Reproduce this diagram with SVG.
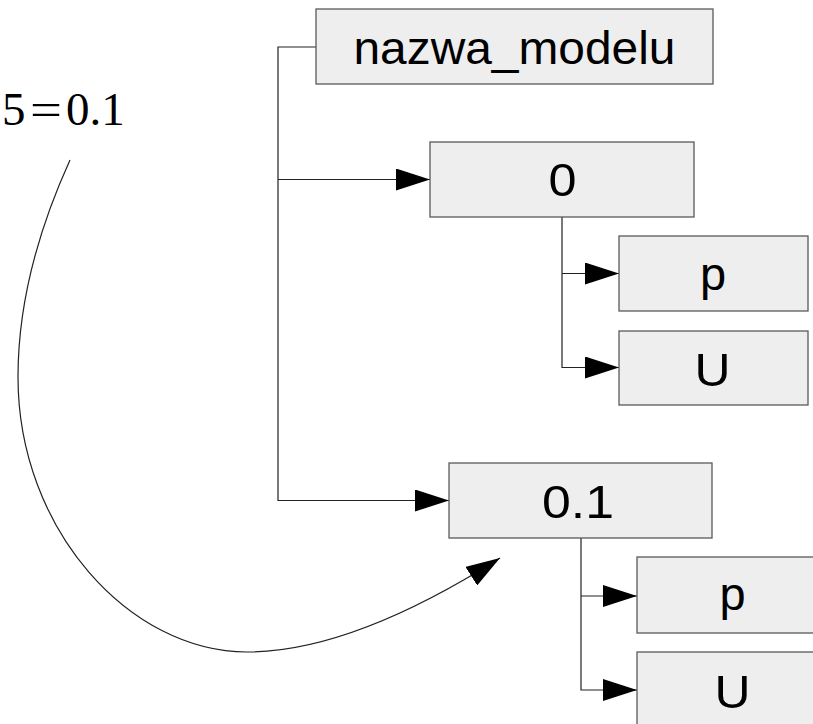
<svg xmlns="http://www.w3.org/2000/svg" width="813" height="724" viewBox="0 0 813 724">
  <style>
    .box { fill: #eeeeee; stroke: #5a5a5a; stroke-width: 1.3; }
    .lbl { font-family: "Liberation Sans", Arial, sans-serif; font-size: 47px; fill: #000; text-anchor: middle; }
    .wire { fill: none; stroke: #222; stroke-width: 1.2; }
    .math { font-family: "Liberation Serif", "Times New Roman", serif; font-size: 47px; fill: #000; }
  </style>
  <defs>
    <marker id="arrow" markerUnits="userSpaceOnUse" markerWidth="34" markerHeight="22" refX="34" refY="11" orient="auto">
      <path d="M0,0 L34,11 L0,22 Z" fill="#000"/>
    </marker>
  </defs>

  <rect width="813" height="724" fill="#ffffff"/>

  <!-- connectors -->
  <g id="connectors">
    <path class="wire" d="M316,47 H278 V500.5 H449" marker-end="url(#arrow)"/>
    <path class="wire" d="M278,179.5 H430" marker-end="url(#arrow)"/>
    <path class="wire" d="M562,217 V367.5 H619" marker-end="url(#arrow)"/>
    <path class="wire" d="M562,273.5 H619" marker-end="url(#arrow)"/>
    <path class="wire" d="M581,538 V690 H637" marker-end="url(#arrow)"/>
    <path class="wire" d="M581,596 H637" marker-end="url(#arrow)"/>
    <path class="wire" d="M70,160 C45,215 18,290 18,377 C18,530 130,652 247,652 C340,652 440,596 500,558" marker-end="url(#arrow)"/>
  </g>

  <!-- formula label -->
  <g id="formula">
    <text class="math" y="125"><tspan x="2">5</tspan><tspan x="30" textLength="32" lengthAdjust="spacingAndGlyphs">=</tspan><tspan x="66">0.1</tspan></text>
  </g>

  <g id="node-root">
    <rect class="box" x="316" y="9" width="397" height="75"/>
    <text class="lbl" x="514.5" y="63.5" font-size="43" textLength="322" lengthAdjust="spacingAndGlyphs">nazwa_modelu</text>
  </g>

  <g id="node-0">
    <rect class="box" x="430" y="142" width="264" height="75"/>
    <text class="lbl" x="562.5" y="195.5" textLength="28" lengthAdjust="spacingAndGlyphs">0</text>
  </g>

  <g id="node-0-p">
    <rect class="box" x="619" y="236" width="189" height="75"/>
    <text class="lbl" x="713" y="290">p</text>
  </g>

  <g id="node-0-U">
    <rect class="box" x="619" y="331" width="189" height="74"/>
    <text class="lbl" x="712.5" y="385.5" textLength="36" lengthAdjust="spacingAndGlyphs">U</text>
  </g>

  <g id="node-01">
    <rect class="box" x="449" y="463" width="263" height="75"/>
    <text class="lbl" x="578" y="518" textLength="72" lengthAdjust="spacingAndGlyphs">0.1</text>
  </g>

  <g id="node-01-p">
    <rect class="box" x="637" y="557" width="189" height="76"/>
    <text class="lbl" x="732.5" y="610">p</text>
  </g>

  <g id="node-01-U">
    <rect class="box" x="637" y="652" width="189" height="90"/>
    <text class="lbl" x="732.5" y="708.3" textLength="36" lengthAdjust="spacingAndGlyphs">U</text>
  </g>
</svg>
